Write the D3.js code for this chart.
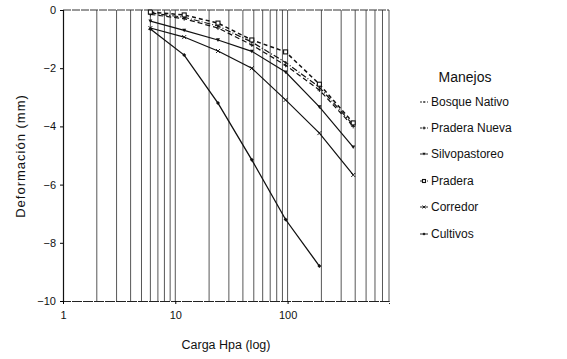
<!DOCTYPE html>
<html><head><meta charset="utf-8">
<script src="https://cdnjs.cloudflare.com/ajax/libs/d3/7.8.5/d3.min.js"></script>
<style>body{margin:0;background:#fff;} text{font-family:"Liberation Sans",Arial,sans-serif;fill:#111;}</style>
</head><body>
<svg id="c" width="567" height="359"></svg>
<script>
// ---- data ----
const loads = [6, 12, 24, 48, 96, 192, 384];
const seriesNames = ["Bosque Nativo", "Pradera Nueva", "Silvopastoreo", "Pradera", "Corredor", "Cultivos"];
const bosqueNativo  = [-0.10, -0.25, -0.55, -1.10, -1.80, -2.65, -3.95];
const praderaNueva  = [-0.15, -0.30, -0.62, -1.20, -1.90, -2.75, -4.00];
const silvopastoreo = [-0.38, -0.70, -1.03, -1.42, -2.13, -3.33, -4.71];
const pradera       = [-0.07, -0.17, -0.45, -1.03, -1.44, -2.55, -3.88];
const corredor      = [-0.62, -0.93, -1.41, -2.00, -3.09, -4.23, -5.67];
const cultivos      = [-0.65, -1.55, -3.20, -5.15, -7.20, -8.80];
const yTicks = [0, -2, -4, -6, -8, -10];
const xTickLabels = [1, 10, 100];
const gridValues = [2,3,4,5,6,7,8,9,10,20,30,40,50,60,70,80,90,100,200,300,400,500,600,700,800];

const svg = d3.select("#c");
const x = d3.scaleLog().domain([1, 800]).range([63, 389]);
const y = d3.scaleLinear().domain([-10, 0]).range([301, 10]);

// grid
svg.append("g").selectAll("line").data(gridValues).join("line")
  .attr("x1", d => x(d)).attr("x2", d => x(d)).attr("y1", y(0)).attr("y2", y(-10))
  .attr("stroke", "#444").attr("stroke-width", 0.9);
// top border
svg.append("line").attr("x1", x(1)).attr("x2", x(800)).attr("y1", y(0)).attr("y2", y(0))
  .attr("stroke", "#333").attr("stroke-width", 1).attr("stroke-dasharray", "8,1");

// axes
const yAxis = d3.axisLeft(y).tickValues(yTicks).tickSize(3).tickFormat(d3.format("d"));
const gy = svg.append("g").attr("transform", `translate(${x(1)},0)`).call(yAxis);
gy.select(".domain").attr("stroke", "#111").attr("stroke-width", 1.2);
gy.selectAll("text").attr("font-size", 11).attr("x", -7);
const xAxis = d3.axisBottom(x).tickValues(xTickLabels).tickSize(3).tickFormat(d3.format("d"));
const gx = svg.append("g").attr("transform", `translate(0,${y(-10)})`).call(xAxis);
gx.select(".domain").attr("stroke", "#222").attr("stroke-width", 1).attr("stroke-dasharray", "10,1");
gx.selectAll("text").attr("font-size", 11).attr("y", 10);
svg.selectAll(".tick text").style("font-family", "Liberation Sans, Arial, sans-serif").attr("fill", "#111");

// titles
svg.append("text").attr("x", 226).attr("y", 349).attr("text-anchor", "middle").attr("font-size", 12.5).text("Carga Hpa (log)");
svg.append("text").attr("transform", "translate(25,156) rotate(-90)").attr("text-anchor", "middle")
  .attr("font-size", 13).attr("letter-spacing", 1).text("Deformación (mm)");

// series
const data = [bosqueNativo, praderaNueva, silvopastoreo, pradera, corredor, cultivos];
const dashes = ["6,2,1,2", "5,3", null, "4,3", null, null];
const widths = [1.2, 1.2, 1.2, 1.5, 1.2, 1.3];
const markers = ["dot", "plus", "tri", "square", "cross", "diamond"];
const line = d3.line().x(d => x(d[0])).y(d => y(d[1]));
data.forEach((vals, i) => {
  const pts = vals.map((v, j) => [loads[j], v]);
  svg.append("path").datum(pts).attr("d", line).attr("fill", "none")
    .attr("stroke", "#111").attr("stroke-width", widths[i])
    .attr("stroke-dasharray", dashes[i]);
  const g = svg.append("g");
  pts.forEach(p => drawMarker(g, markers[i], x(p[0]), y(p[1]), 0.8));
});

function drawMarker(g, m, cx, cy, s) {
  const r = 2.5 * s;
  if (m === "dot") g.append("circle").attr("cx", cx).attr("cy", cy).attr("r", 1.3 * s).attr("fill", "#111");
  else if (m === "plus") g.append("path").attr("d", `M${cx-r},${cy}H${cx+r}M${cx},${cy-r}V${cy+r}`).attr("stroke", "#111").attr("stroke-width", 0.9);
  else if (m === "tri") g.append("path").attr("d", `M${cx-r},${cy-r*0.8}L${cx+r},${cy-r*0.8}L${cx},${cy+r}Z`).attr("fill", "#111");
  else if (m === "square") g.append("rect").attr("x", cx - r).attr("y", cy - r).attr("width", 2*r).attr("height", 2*r).attr("fill", "#fff").attr("stroke", "#111").attr("stroke-width", 1.1);
  else if (m === "cross") g.append("path").attr("d", `M${cx-r},${cy-r}L${cx+r},${cy+r}M${cx+r},${cy-r}L${cx-r},${cy+r}`).attr("stroke", "#111").attr("stroke-width", 0.9);
  else if (m === "diamond") g.append("path").attr("d", `M${cx},${cy-r}L${cx+r},${cy}L${cx},${cy+r}L${cx-r},${cy}Z`).attr("fill", "#111");
}

// legend
svg.append("text").attr("x", 465).attr("y", 82).attr("text-anchor", "middle").attr("font-size", 14).text("Manejos");
const legY = [106, 132, 158, 185, 211, 238];
seriesNames.forEach((n, i) => {
  const ly = legY[i];
  svg.append("line").attr("x1", 420).attr("x2", 428).attr("y1", ly - 4).attr("y2", ly - 4)
    .attr("stroke", "#111").attr("stroke-width", 0.9).attr("stroke-dasharray", dashes[i] ? "2,1.5" : null);
  drawMarker(svg, markers[i], 424, ly - 4, 0.6);
  svg.append("text").attr("x", 431).attr("y", ly).attr("font-size", 12).text(n);
});
</script>
</body></html>
